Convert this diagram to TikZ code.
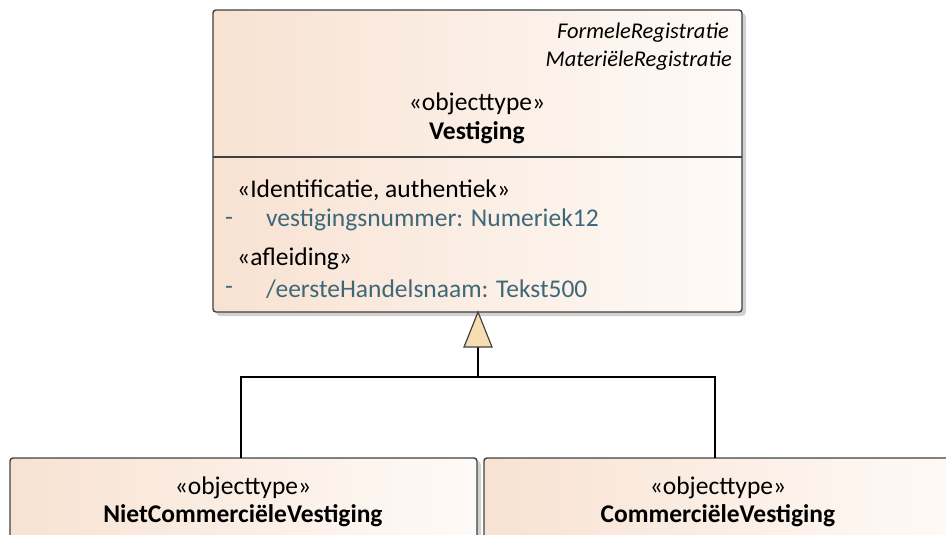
\documentclass[tikz,border=0pt]{standalone}
\usepackage{fontspec}
\setmainfont{Carlito}
\definecolor{peachL}{HTML}{F8E2D2}
\definecolor{peachR}{HTML}{FEFAF7}
\definecolor{attr}{HTML}{3E6878}
\definecolor{edge}{HTML}{404040}
\definecolor{tri}{HTML}{F7DDB2}
\tikzset{
  umlbox/.style={draw=edge, line width=1.4pt, rounded corners=3pt, left color=peachL, right color=peachR},
  shadowbox/.style={fill=black!18, rounded corners=4pt},
  txt/.style={inner sep=0pt, font=\fontsize{25.5}{30}\selectfont},
  ittxt/.style={inner sep=0pt, font=\fontsize{22.5}{28}\selectfont\itshape},
  bftxt/.style={inner sep=0pt, font=\fontsize{25.5}{30}\selectfont\bfseries},
  attrtxt/.style={txt, text=attr},
  conn/.style={draw=black, line width=1.2pt},
}
\begin{document}
\begin{tikzpicture}[x=1pt,y=-1pt]
\useasboundingbox (0,0) rectangle (946,535);
\clip (0,0) rectangle (946,535);
% main box
\fill[shadowbox] (216,13) rectangle (746,316);
\path[umlbox] (213,10) rectangle (742,312);
\draw[edge, line width=1.2pt] (213,157) -- (742,157);
\node[ittxt, anchor=east] (f1) at (729,33) {FormeleRegistratie};
\node[ittxt, anchor=east] (f2) at (732,61) {MateriëleRegistratie};
\node[txt] (st) at (477,104) {«objecttype»};
\node[bftxt] (nm) at (477,133) {Vestiging};
\node[txt, anchor=west] (s1) at (237,190) {«Identificatie, authentiek»};
\node[attrtxt] (d1) at (229,221) {-};
\node[attrtxt, anchor=west] (a1) at (266,220) {vestigingsnummer: Numeriek12};
\node[txt, anchor=west] (s2) at (237,259) {«afleiding»};
\node[attrtxt] (d2) at (229,290) {-};
\node[attrtxt, anchor=west] (a2) at (266,289) {/eersteHandelsnaam: Tekst500};
\coordinate (top) at (478,312);
% bottom boxes
\fill[shadowbox] (13,461) rectangle (481,560);
\path[umlbox] (10,458) rectangle (477,560);
\fill[shadowbox] (487,461) rectangle (960,560);
\path[umlbox] (484,458) rectangle (960,560);
\node[txt] (ls) at (243,488) {«objecttype»};
\node[bftxt] (ln) at (243,516) {NietCommerciëleVestiging};
\node[txt] (rs) at (718,488) {«objecttype»};
\node[bftxt] (rn) at (718,516) {CommerciëleVestiging};
\coordinate (lt) at (241,458);
\coordinate (rt) at (715,458);
% generalization
\coordinate (base) at (478,347);
\coordinate (join) at (478,377);
\draw[conn] (lt) |- (join) -| (rt);
\draw[conn] (join) -- (base);
\draw[edge, line width=1.2pt, fill=tri, line join=miter] (top) -- (464,347) -- (492,347) -- cycle;
\end{tikzpicture}
\end{document}
